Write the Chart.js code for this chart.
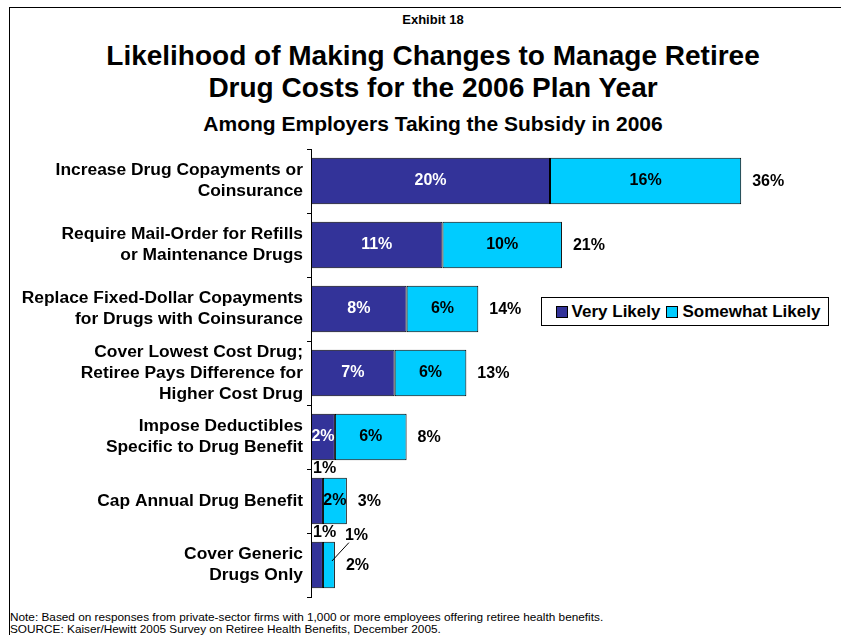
<!DOCTYPE html>
<html lang="en">
<head>
    <meta charset="UTF-8">
    <title>Exhibit 18</title>
    <script src="https://cdn.jsdelivr.net/npm/chart.js"></script>
    <style>
        body { margin: 0; width: 841px; height: 635px; overflow: hidden; background: #fff; position: relative;
               font-family: "Liberation Sans", Arial, sans-serif; color: #000; }
        .frame { position: absolute; left: 9px; top: 7px; width: 900px; height: 700px;
                 border-top: 1px solid #000; border-left: 1px solid #000; }
        .txt { position: absolute; left: 0; width: 866px; text-align: center; font-weight: bold; }
        #exhibit { top: 13px; font-size: 13px; line-height: 14px; }
        #title { top: 40px; font-size: 28px; line-height: 32px; }
        #subtitle { top: 112px; font-size: 21px; line-height: 24px; }
        #note { position: absolute; left: 10px; top: 611px; font-size: 11.8px; line-height: 12px; }
        #chartWrap { position: absolute; left: 0; top: 140px; width: 841px; height: 460px; }
        #legend { position: absolute; left: 541px; top: 297px; width: 286px; height: 27px;
                  border: 1px solid #000; background: #fff; display: flex; align-items: center;
                  justify-content: center; font-weight: bold; font-size: 17px; }
        #legend .sw { display: inline-block; width: 10px; height: 10px; border: 1px solid #000;
                      margin: 0 4px 0 6px; }
    </style>
</head>
<body>
    <div class="frame"></div>
    <div class="txt" id="exhibit">Exhibit 18</div>
    <div class="txt" id="title">Likelihood of Making Changes to Manage Retiree<br>Drug Costs for the 2006 Plan Year</div>
    <div class="txt" id="subtitle">Among Employers Taking the Subsidy in 2006</div>
    <div id="chartWrap"><canvas id="drugChart" width="841" height="460"></canvas></div>
    <div id="legend"></div>
    <div id="note">Note: Based on responses from private-sector firms with 1,000 or more employees offering retiree health benefits.<br>SOURCE: Kaiser/Hewitt 2005 Survey on Retiree Health Benefits, December 2005.</div>

    <script>
        const categories = [
            ['Increase Drug Copayments or', 'Coinsurance'],
            ['Require Mail-Order for Refills', 'or Maintenance Drugs'],
            ['Replace Fixed-Dollar Copayments', 'for Drugs with Coinsurance'],
            ['Cover Lowest Cost Drug;', 'Retiree Pays Difference for', 'Higher Cost Drug'],
            ['Impose Deductibles', 'Specific to Drug Benefit'],
            'Cap Annual Drug Benefit',
            ['Cover Generic', 'Drugs Only']
        ];
        const veryLikely = [20, 11, 8, 7, 2, 1, 1];
        const somewhatLikely = [16, 10, 6, 6, 6, 2, 1];
        const seriesNames = ['Very Likely', 'Somewhat Likely'];
        const seriesColors = ['#333399', '#00CCFF'];

        const labelFont = 'bold 16px "Liberation Sans", Arial, sans-serif';

        // percent labels inside the segments, totals after the bar;
        // 1% segments get their label outside the bar
        const valueLabels = {
            id: 'valueLabels',
            afterDatasetsDraw(chart) {
                const ctx = chart.ctx;
                const metaV = chart.getDatasetMeta(0);
                const metaS = chart.getDatasetMeta(1);
                ctx.save();
                ctx.font = labelFont;
                ctx.textBaseline = 'middle';
                categories.forEach((c, i) => {
                    const bv = metaV.data[i];
                    const bs = metaS.data[i];
                    const top = bv.y - bv.height / 2;

                    if (veryLikely[i] > 1) {
                        ctx.fillStyle = '#fff';
                        ctx.textAlign = 'center';
                        ctx.fillText(veryLikely[i] + '%', (bv.base + bv.x) / 2, bv.y);
                    } else {
                        ctx.fillStyle = '#000';
                        ctx.textAlign = 'left';
                        ctx.fillText(veryLikely[i] + '%', bv.base + 2, top - 9);
                    }

                    if (somewhatLikely[i] > 1) {
                        ctx.fillStyle = '#000';
                        ctx.textAlign = 'center';
                        ctx.fillText(somewhatLikely[i] + '%', (bs.base + bs.x) / 2, bv.y);
                    } else {
                        ctx.strokeStyle = '#000';
                        ctx.lineWidth = 1;
                        ctx.beginPath();
                        ctx.moveTo((bs.base + bs.x) / 2 + 3, bv.y - 4);
                        ctx.lineTo(bs.x + 14, top + 1);
                        ctx.stroke();
                        ctx.fillStyle = '#000';
                        ctx.textAlign = 'left';
                        ctx.fillText(somewhatLikely[i] + '%', bs.x + 10, top - 6);
                    }

                    ctx.fillStyle = '#000';
                    ctx.textAlign = 'left';
                    ctx.fillText((veryLikely[i] + somewhatLikely[i]) + '%', bs.x + 11, bv.y + 1);
                });
                ctx.restore();
            }
        };

        const ctx = document.getElementById('drugChart').getContext('2d');
        const chart = new Chart(ctx, {
            type: 'bar',
            data: {
                labels: categories,
                datasets: [
                    { label: seriesNames[0], data: veryLikely, backgroundColor: seriesColors[0] },
                    { label: seriesNames[1], data: somewhatLikely, backgroundColor: seriesColors[1] }
                ]
            },
            options: {
                indexAxis: 'y',
                responsive: false,
                animation: false,
                layout: { padding: { top: 9, right: 52, bottom: 3, left: 0 } },
                datasets: {
                    bar: {
                        categoryPercentage: 1,
                        barPercentage: 0.73,
                        borderColor: '#000',
                        borderWidth: 1,
                        borderSkipped: false
                    }
                },
                plugins: {
                    legend: { display: false },
                    tooltip: { enabled: false }
                },
                scales: {
                    x: { stacked: true, min: 0, max: 40, display: false },
                    y: {
                        stacked: true,
                        afterFit(scale) {
                            scale.width = 311;
                            scale.paddingTop = 0;
                            scale.paddingBottom = 0;
                        },
                        grid: { offset: true, drawOnChartArea: false, tickLength: 4, color: '#000' },
                        border: { display: true, color: '#000', width: 1 },
                        ticks: {
                            color: '#000',
                            padding: 4,
                            autoSkip: false,
                            font: { family: '"Liberation Sans", Arial, sans-serif', size: 17.4, weight: 'bold', lineHeight: 1.21 }
                        }
                    }
                }
            },
            plugins: [valueLabels]
        });

        // legend box inside the plot
        const legend = document.getElementById('legend');
        seriesNames.forEach((name, k) => {
            const sw = document.createElement('span');
            sw.className = 'sw';
            sw.style.background = seriesColors[k];
            legend.appendChild(sw);
            legend.appendChild(document.createTextNode(name));
        });
    </script>
</body>
</html>
